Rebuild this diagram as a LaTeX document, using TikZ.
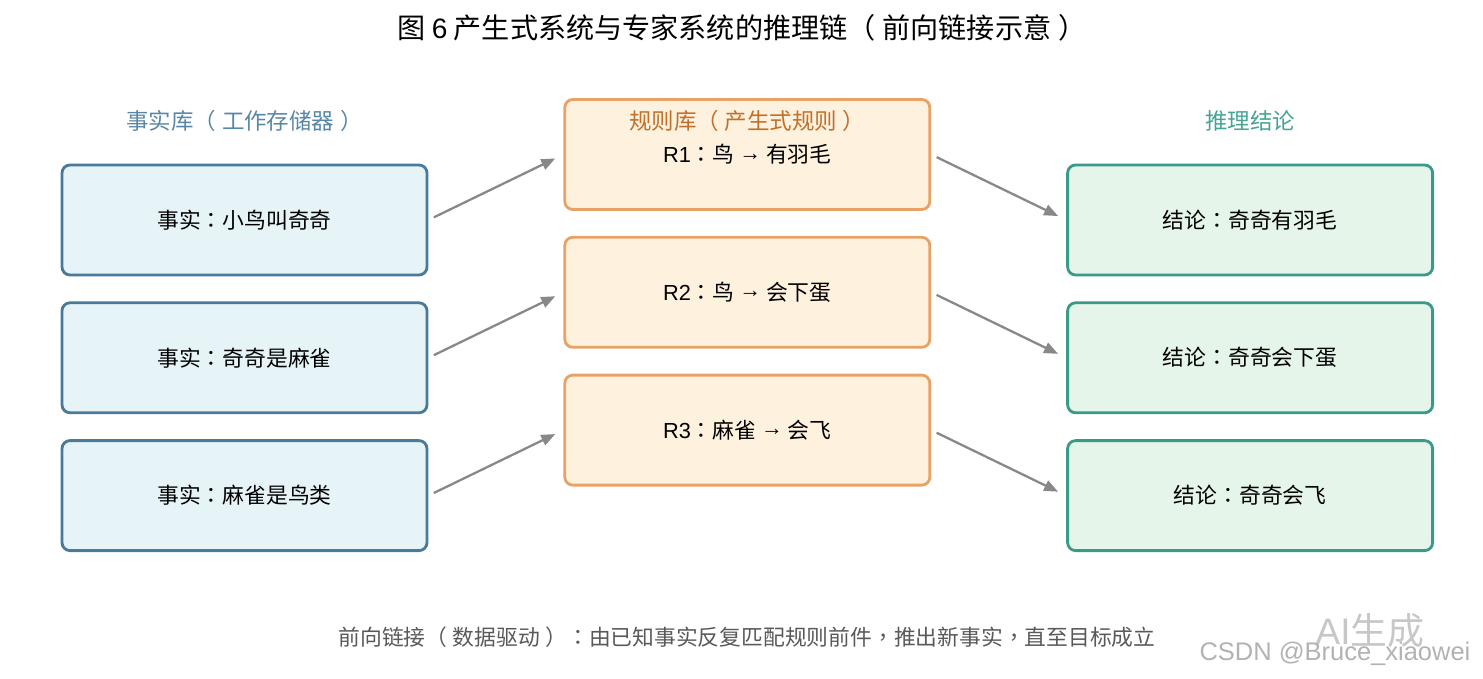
\documentclass[tikz,border=0pt]{standalone}
\usepackage{fontspec}
\setmainfont{Liberation Sans}
\newfontfamily\cjk{Noto Sans CJK SC}
\newfontfamily\ponct{Noto Sans CJK TC}
\usetikzlibrary{positioning}
\usetikzlibrary{arrows.meta}
\definecolor{BleuFait}{HTML}{4A7A9B}
\definecolor{FondFait}{HTML}{E6F4F7}
\definecolor{OrangeRegle}{HTML}{E9A265}
\definecolor{FondRegle}{HTML}{FEF1DD}
\definecolor{VertConcl}{HTML}{3A9A8A}
\definecolor{FondConcl}{HTML}{E6F5EA}
\definecolor{GrisFleche}{HTML}{888888}
\definecolor{TitreFait}{HTML}{5887A6}
\definecolor{TitreRegle}{HTML}{C0702A}
\definecolor{TitreConcl}{HTML}{47A394}
\newcommand{\ltn}[1]{{\rmfamily #1}}
\newcommand{\pc}[1]{{\ponct #1}}
\newcommand{\fl}{\raisebox{0.12em}{\rmfamily →}}
\newcommand{\po}{\pc{（}\hspace{0.25em}}
\newcommand{\pf}{\hspace{0.25em}\pc{）}}
\tikzset{
	boite/.style={draw, rectangle, rounded corners=0.16cm, line width=1.6pt,
		minimum width=7.3cm, minimum height=2.2cm, align=center},
	fait/.style={boite, draw=BleuFait, fill=FondFait},
	regle/.style={boite, draw=OrangeRegle, fill=FondRegle},
	concl/.style={boite, draw=VertConcl, fill=FondConcl},
	entete/.style={font=\fontsize{12.8}{15}\selectfont\cjk},
	fleche/.style={-{Triangle[length=0.28cm,width=0.22cm]}, line width=1.3pt,
		draw=GrisFleche, shorten <=0.12cm, shorten >=0.18cm}
}
\begin{document}
\begin{tikzpicture}[every node/.style={font=\fontsize{12.4}{15}\selectfont\cjk}, node distance=0.5cm and 2.7cm]
			\useasboundingbox (0,0) rectangle (29.66,-13.58);
			% Titre
			\node[font=\fontsize{16}{19}\selectfont\cjk] (titre) at (14.84,-0.56) {图\ \ltn{6}\ 产生式系统与专家系统的推理链\po 前向链接示意\pf};
			%
			% Colonne des faits
			\node[fait] (fait1) at (4.89,-4.40) {事实\pc{：}小鸟叫奇奇};
			\node[fait, below=of fait1] (fait2) {事实\pc{：}奇奇是麻雀};
			\node[fait, below=of fait2] (fait3) {事实\pc{：}麻雀是鸟类};
			%
			% Colonne des regles
			\node[regle, right=of fait1, yshift=1.31cm] (regle1) {\ltn{R1}\pc{：}鸟 \fl{} 有羽毛};
			\node[regle, below=of regle1] (regle2) {\ltn{R2}\pc{：}鸟 \fl{} 会下蛋};
			\node[regle, below=of regle2] (regle3) {\ltn{R3}\pc{：}麻雀 \fl{} 会飞};
			%
			% Colonne des conclusions
			\node[concl, right=of regle1, yshift=-1.31cm] (concl1) {结论\pc{：}奇奇有羽毛};
			\node[concl, below=of concl1] (concl2) {结论\pc{：}奇奇会下蛋};
			\node[concl, below=of concl2] (concl3) {结论\pc{：}奇奇会飞};
			%
			% En-tetes des colonnes
			\node[entete, text=TitreFait] (tfait) at (fait1.center |- 0,-2.42) {事实库\po 工作存储器\pf};
			\node[entete, text=TitreRegle] (tregle) at (regle1.center |- 0,-2.42) {规则库\po 产生式规则\pf};
			\node[entete, text=TitreConcl] (tconcl) at (concl1.center |- 0,-2.42) {推理结论};
			%
			% Fleches
			\foreach \i in {1,2,3} {
				\draw[fleche] (fait\i.east) -- (regle\i.west);
				\draw[fleche] (regle\i.east) -- (concl\i.west);
			}
			%
			% Legende
			\node[text=black!65] (legende) at (14.94,-12.74) {前向链接\po 数据驱动\pf\pc{：}由已知事实反复匹配规则前件\pc{，}推出新事实\pc{，}直至目标成立};
			%		
			% Filigrane
			\node[font=\fontsize{21}{24}\selectfont\cjk, text=black!22] (aigen) at (27.4,-12.62) {\ltn{AI}生成};
			\node[font=\fontsize{14.5}{17}\selectfont\rmfamily, text=black!30] (csdn) at (26.7,-13.08) {CSDN @Bruce\_xiaowei};
		\end{tikzpicture}
\end{document}
